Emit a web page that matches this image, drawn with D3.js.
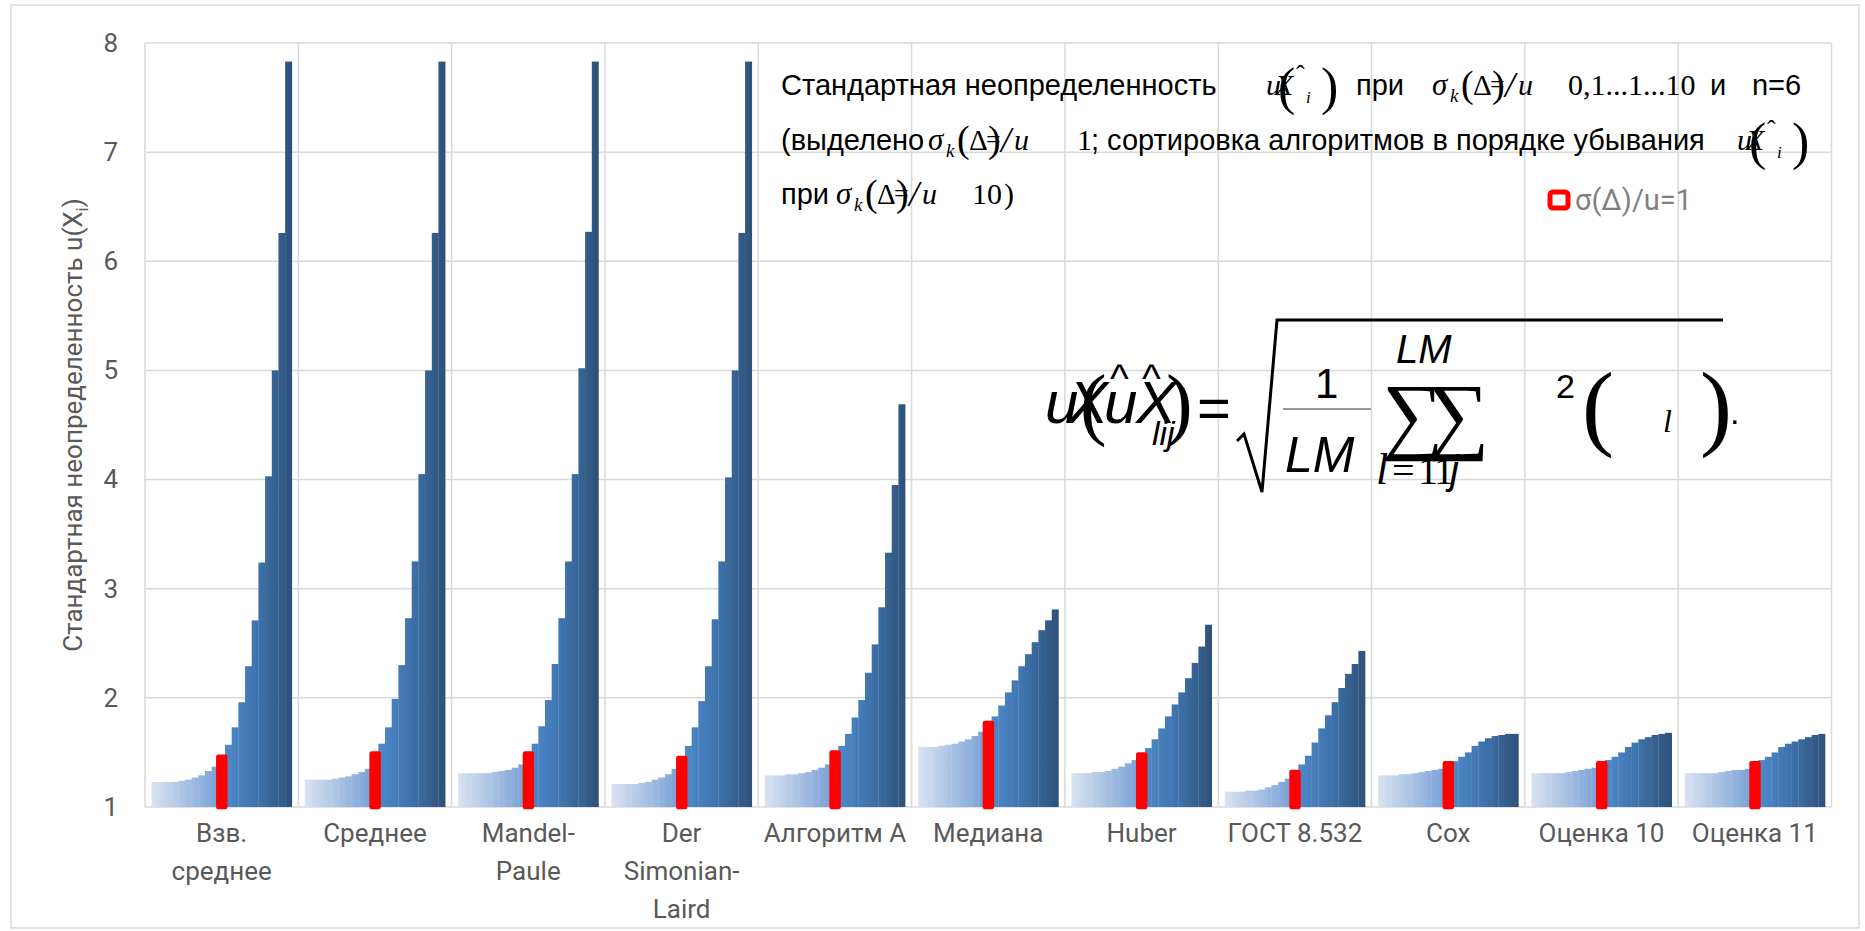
<!DOCTYPE html>
<meta charset="utf-8">
<style>
body { margin: 0; background: #fff; }
svg { display: block; }
.tick text { font: 26px Roboto, "Liberation Sans", sans-serif; fill: #595959; }
.cat { font: 26px Roboto, "Liberation Sans", sans-serif; fill: #595959; }
.ttl { font: 29px "Liberation Sans", Arial, sans-serif; fill: #000; }
.tm { font-family: "Liberation Serif", "Times New Roman", serif; fill: #000; }
</style>
<svg width="1865" height="931"></svg>
<script src="https://d3js.org/d3.v7.min.js"></script>
<script>

// algorithms, sorted by u at sigma/u = 10
var algorithms = ["Взв.\nсреднее", "Среднее", "Mandel-\nPaule", "Der\nSimonian-\nLaird", "Алгоритм А",
  "Медиана", "Huber", "ГОСТ 8.532", "Cox", "Оценка 10", "Оценка 11"]

// sigma_k(Delta)/u steps, 0,1 ... 1 ... 10
var sigmaRatios = [0.1, 0.13, 0.16, 0.2, 0.25, 0.32, 0.4, 0.5, 0.63, 0.79, 1,
  1.26, 1.58, 2, 2.5, 3.16, 3.98, 5.01, 6.31, 7.94, 10]
var highlightRatio = 1

var uWeightedMean = [1.23, 1.23, 1.23, 1.23, 1.24, 1.25, 1.27, 1.29, 1.33, 1.37, 1.46,
  1.57, 1.73, 1.96, 2.29, 2.71, 3.24, 4.03, 5.00, 6.26, 7.83]
var uMean = [1.25, 1.25, 1.25, 1.25, 1.26, 1.27, 1.28, 1.30, 1.32, 1.35, 1.49,
  1.58, 1.73, 1.99, 2.30, 2.73, 3.25, 4.05, 5.00, 6.26, 7.83]
var uMandelPaule = [1.31, 1.31, 1.31, 1.31, 1.31, 1.32, 1.33, 1.34, 1.36, 1.39, 1.49,
  1.58, 1.74, 1.98, 2.31, 2.73, 3.25, 4.05, 5.02, 6.27, 7.83]
var uDerSimonian = [1.21, 1.21, 1.21, 1.21, 1.22, 1.23, 1.25, 1.27, 1.30, 1.35, 1.45,
  1.56, 1.73, 1.97, 2.29, 2.72, 3.25, 4.02, 5.00, 6.26, 7.83]
var uAlgorithmA = [1.29, 1.29, 1.29, 1.30, 1.30, 1.31, 1.32, 1.34, 1.36, 1.39, 1.50,
  1.56, 1.67, 1.82, 1.98, 2.23, 2.49, 2.83, 3.33, 3.95, 4.69]
var uMedian = [1.55, 1.55, 1.55, 1.56, 1.57, 1.58, 1.60, 1.62, 1.65, 1.69, 1.77,
  1.83, 1.93, 2.05, 2.16, 2.29, 2.40, 2.51, 2.62, 2.71, 2.81]
var uHuber = [1.31, 1.31, 1.31, 1.32, 1.32, 1.33, 1.35, 1.37, 1.40, 1.43, 1.48,
  1.54, 1.62, 1.72, 1.83, 1.94, 2.05, 2.18, 2.32, 2.47, 2.67]
var uGost = [1.14, 1.14, 1.14, 1.15, 1.15, 1.16, 1.18, 1.20, 1.23, 1.26, 1.32,
  1.39, 1.47, 1.59, 1.72, 1.84, 1.96, 2.09, 2.22, 2.31, 2.43]
var uCox = [1.29, 1.29, 1.29, 1.30, 1.30, 1.31, 1.32, 1.33, 1.34, 1.35, 1.40,
  1.42, 1.46, 1.50, 1.56, 1.60, 1.63, 1.65, 1.66, 1.67, 1.67]
var uEstimate10 = [1.31, 1.31, 1.31, 1.31, 1.31, 1.32, 1.33, 1.34, 1.35, 1.36, 1.40,
  1.43, 1.46, 1.50, 1.55, 1.59, 1.62, 1.64, 1.66, 1.67, 1.68]
var uEstimate11 = [1.31, 1.31, 1.31, 1.31, 1.31, 1.32, 1.33, 1.34, 1.34, 1.35, 1.40,
  1.43, 1.46, 1.50, 1.55, 1.58, 1.60, 1.62, 1.64, 1.66, 1.67]

var series = [uWeightedMean, uMean, uMandelPaule, uDerSimonian, uAlgorithmA,
  uMedian, uHuber, uGost, uCox, uEstimate10, uEstimate11]

var yTicks = [1, 2, 3, 4, 5, 6, 7, 8]

var svg = d3.select("svg")
var plotLeft = 145, plotRight = 1831.5, plotTop = 43, plotBottom = 807

// outer frame
svg.append("rect").attr("x", 11).attr("y", 5).attr("width", 1848).attr("height", 923)
  .attr("fill", "#fff").attr("stroke", "#d9d9d9").attr("stroke-width", 1.5)

var x0 = d3.scaleBand().domain(algorithms).range([plotLeft, plotRight]).padding(0)
var bw = x0.bandwidth()
var x1 = d3.scaleBand().domain(sigmaRatios).range([6.5, bw - 6.5]).padding(0)
var y = d3.scaleLinear().domain([1, 8]).range([plotBottom, plotTop])

// grid
var grid = svg.append("g")
grid.selectAll("line.h").data(yTicks).enter().append("line")
  .attr("x1", plotLeft).attr("x2", plotRight)
  .attr("y1", function(d){ return y(d) }).attr("y2", function(d){ return y(d) })
  .attr("stroke", "#d9d9d9").attr("stroke-width", 1.5)
grid.selectAll("line.v").data(algorithms.concat(["_end"])).enter().append("line")
  .attr("x1", function(d, i){ return plotLeft + i * bw }).attr("x2", function(d, i){ return plotLeft + i * bw })
  .attr("y1", plotTop).attr("y2", plotBottom)
  .attr("stroke", "#d9d9d9").attr("stroke-width", 1.5)

// light -> blue -> dark gradient across each group (local coordinates of the group)
var grad = svg.append("defs").append("linearGradient").attr("id", "barGrad")
  .attr("gradientUnits", "userSpaceOnUse")
  .attr("x1", x1.range()[0]).attr("x2", x1.range()[1]).attr("y1", 0).attr("y2", 0)
grad.append("stop").attr("offset", 0).attr("stop-color", "#d9e3f1")
grad.append("stop").attr("offset", 0.47).attr("stop-color", "#7aa2d6")
grad.append("stop").attr("offset", 0.53).attr("stop-color", "#4d89c9")
grad.append("stop").attr("offset", 0.75).attr("stop-color", "#3f73ad")
grad.append("stop").attr("offset", 1).attr("stop-color", "#2e5178")

var groups = svg.selectAll("g.grp").data(series).enter().append("g")
  .attr("class", "grp")
  .attr("transform", function(d, g){ return "translate(" + x0(algorithms[g]) + ",0)" })

groups.each(function(vals){
  var bars = vals.map(function(v, i){ return { r: sigmaRatios[i], v: v } })
  d3.select(this).selectAll("rect").data(bars).enter().append("rect")
    .attr("x", function(d){ return x1(d.r) })
    .attr("width", x1.bandwidth() + 0.3)
    .attr("y", function(d){ return y(d.v) })
    .attr("height", function(d){ return y(1) - y(d.v) })
    .attr("fill", function(d){ return d.r === highlightRatio ? "#ff0000" : "url(#barGrad)" })
    .attr("stroke", function(d){ return d.r === highlightRatio ? "#ff0000" : "none" })
    .attr("stroke-width", 4.5)
    .attr("stroke-linejoin", "round")
  // keep red bar on top
  d3.select(this).selectAll("rect").filter(function(d){ return d.r === highlightRatio }).raise()
})

// y axis
var yAxis = svg.append("g").attr("transform", "translate(" + plotLeft + ",0)")
  .call(d3.axisLeft(y).tickValues(yTicks).tickSize(0).tickPadding(27).tickFormat(d3.format("d")))
yAxis.select(".domain").remove()

var yTitle = svg.append("text").attr("class", "cat")
  .attr("transform", "translate(82,425) rotate(-90)")
  .attr("text-anchor", "middle")
yTitle.append("tspan").text("Стандартная неопределенность u(X")
yTitle.append("tspan").attr("font-size", 17).attr("dy", 6).text("i")
yTitle.append("tspan").attr("dy", -6).text(")")

// category labels
svg.selectAll("text.xl").data(algorithms).enter().append("text")
  .attr("class", "cat xl")
  .attr("text-anchor", "middle")
  .attr("x", function(d){ return x0(d) + bw / 2 })
  .attr("y", 842)
  .each(function(d){
    var t = d3.select(this)
    d.split("\n").forEach(function(line, k){
      t.append("tspan").attr("x", x0(d) + bw / 2).attr("dy", k ? 38 : 0).text(line)
    })
  })

// annotation: title text with inline math
var ann = svg.append("g")
function txt(x, yy, s, cls, size, style){
  return ann.append("text").attr("class", cls).attr("x", x).attr("y", yy)
    .attr("font-size", size).attr("font-style", style || "normal").text(s)
}
function sigmaExpr(x, yy){
  txt(x, yy, "σ", "tm", 31, "italic")
  txt(x + 18, yy + 7, "k", "tm", 19, "italic")
  txt(x + 29, yy + 2, "(", "tm", 38)
  txt(x + 41, yy, "Δ", "tm", 29)
  txt(x + 60, yy + 2, ")", "tm", 38)
  txt(x + 58, yy - 2, "=", "tm", 26)
  txt(x + 73, yy + 2, "/", "tm", 36, "italic")
  txt(x + 86, yy, "u", "tm", 30, "italic")
}
function uXhat(x, yy){
  txt(x, yy, "u", "tm", 30, "italic")
  txt(x + 9, yy, "X", "tm", 30, "italic")
  txt(x + 12, yy + 9, "(", "tm", 52)
  txt(x + 30, yy - 12, "ˆ", "tm", 26)
  txt(x + 40, yy + 8, "i", "tm", 17, "italic")
  txt(x + 55, yy + 9, ")", "tm", 52)
}
var L1 = 95, L2 = 150, L3 = 204
txt(781, L1, "Стандартная неопределенность", "ttl")
uXhat(1266, L1)
txt(1356, L1, "при", "ttl")
sigmaExpr(1432, L1)
txt(1568, L1, "0,1...1...10", "tm", 30)
txt(1710, L1, "и", "ttl")
txt(1752, L1, "n", "ttl", 29, "italic")
txt(1768, L1, "=6", "ttl")

txt(781, L2, "(выделено", "ttl")
sigmaExpr(928, L2)
txt(1077, L2, "1", "tm", 30)
txt(1091, L2, "; сортировка алгоритмов в порядке убывания", "ttl")
uXhat(1737, L2)

txt(781, L3, "при", "ttl")
sigmaExpr(836, L3)
txt(972, L3, "10", "tm", 30)
txt(1004, L3, ")", "tm", 30)

// legend
svg.append("rect").attr("x", 1550).attr("y", 192).attr("width", 18).attr("height", 16)
  .attr("rx", 3).attr("fill", "#fff").attr("stroke", "#ff0000").attr("stroke-width", 5)
svg.append("text").attr("class", "cat").attr("x", 1575).attr("y", 210)
  .style("font-size", "29px").style("fill", "#7f7f7f").text("σ(Δ)/u=1")

// big formula (as in the source figure)
var f = svg.append("g").attr("class", "formula")
function ft(x, yy, s, size, family, style){
  return f.append("text").attr("x", x).attr("y", yy).attr("font-size", size)
    .attr("font-family", family).attr("font-style", style || "normal").attr("fill", "#000").text(s)
}
var sans = "'Liberation Sans', Arial, sans-serif", serif = "'Liberation Serif', 'Times New Roman', serif"
ft(1045, 423, "u", 60, sans, "italic")
ft(1068, 423, "X", 60, sans, "italic")
ft(1080, 430, "(", 80, serif)
ft(1104, 423, "u", 60, sans, "italic")
ft(1136, 423, "X", 60, sans, "italic")
ft(1110, 392, "^", 40, sans)
ft(1142, 392, "^", 40, sans)
ft(1152, 445, "lij", 34, sans, "italic")
ft(1166, 430, ")", 80, serif)
ft(1197, 428, "=", 58, sans)
f.append("path").attr("d", "M1237,441 L1244,434 L1262,492 L1277,320 L1723,320")
  .attr("fill", "none").attr("stroke", "#000").attr("stroke-width", 3)
f.append("line").attr("x1", 1283).attr("x2", 1371).attr("y1", 409).attr("y2", 409)
  .attr("stroke", "#777").attr("stroke-width", 1.5)
ft(1315, 398, "1", 42, sans)
ft(1285, 472, "LM", 50, sans, "italic")
ft(1396, 363, "LM", 40, sans, "italic")
ft(1382, 443, "∑", 86, serif)
ft(1428, 443, "∑", 86, serif)
ft(1376, 484, "l", 44, serif, "italic")
ft(1392, 484, "=", 40, serif)
ft(1418, 484, "1", 40, serif)
ft(1434, 484, "1", 40, serif)
ft(1450, 484, "j", 40, sans, "italic")
ft(1556, 398, "2", 34, sans)
ft(1582, 438, "(", 96, serif)
ft(1663, 432, "l", 32, serif, "italic")
ft(1700, 438, ")", 96, serif)
ft(1730, 424, ".", 34, sans)

</script>
